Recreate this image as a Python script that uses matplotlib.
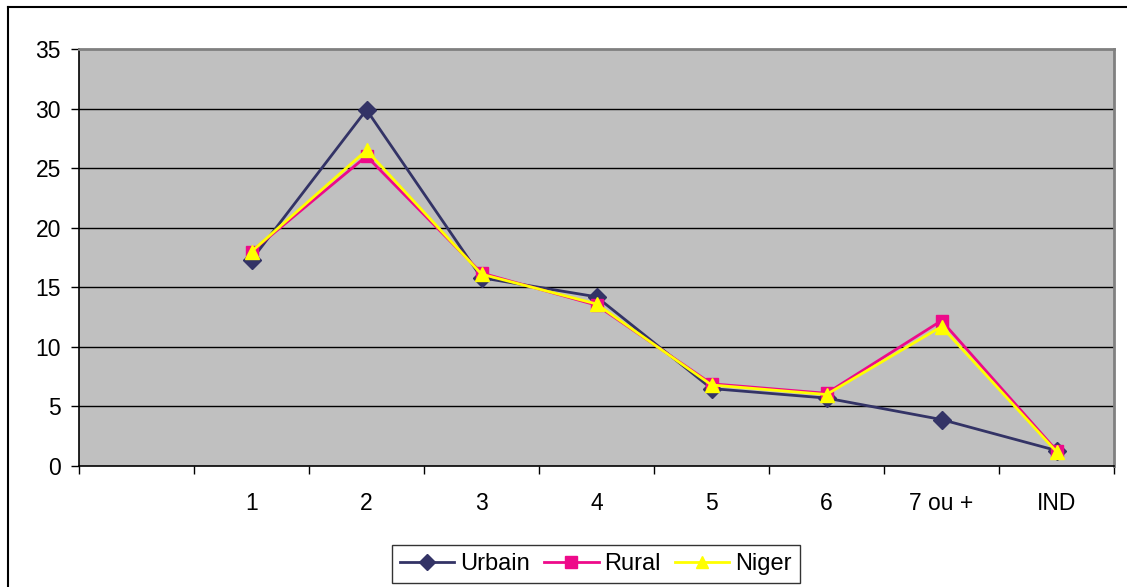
import matplotlib
matplotlib.use("Agg")
import matplotlib.pyplot as plt
from matplotlib.lines import Line2D

categories = ["", "1", "2", "3", "4", "5", "6", "7 ou +", "IND"]
urbain = [17.3, 29.9, 15.8, 14.2, 6.5, 5.7, 3.9, 1.3]
rural = [18.0, 26.0, 16.2, 13.5, 6.9, 6.1, 12.2, 1.3]
niger = [18.0, 26.5, 16.1, 13.6, 6.8, 6.0, 11.7, 1.2]
yticks = [0, 5, 10, 15, 20, 25, 30, 35]

plt.rcParams['font.family'] = ['Liberation Sans', 'DejaVu Sans']

fig = plt.figure(figsize=(11.27, 5.87), dpi=100)
W, H = 1127, 587
ax = fig.add_axes([79 / W, 1 - 466 / H, 1035 / W, 417 / H])
ax.set_facecolor('#C0C0C0')

xs = list(range(1, len(categories)))
ax.plot(xs, urbain, color='#333366', lw=2.0, marker='D', ms=9, label='Urbain', zorder=3)
ax.plot(xs, rural, color='#EE0A8A', lw=2.0, marker='s', ms=9, label='Rural', zorder=4)
ax.plot(xs, niger, color='#FFFF00', lw=2.0, marker='^', ms=10, label='Niger', zorder=5)

ax.set_xlim(-0.5, len(categories) - 0.5)
ax.set_ylim(0, 35)
ax.set_yticks(yticks)
ax.set_yticklabels([str(v) for v in yticks], fontsize=16.5)
for v in yticks[1:-1]:
    ax.axhline(v, color='black', lw=1.0, zorder=1)

ax.set_xticks([i - 0.5 for i in range(len(categories) + 1)])
ax.set_xticklabels([])
ax.set_xticks(list(range(len(categories))), minor=True)
ax.set_xticklabels(categories, minor=True, fontsize=16.5)
ax.tick_params(axis='x', which='major', direction='out', length=6, width=1, color='black')
ax.tick_params(axis='x', which='minor', length=0, pad=18.5)
ax.tick_params(axis='y', direction='out', length=6, width=1, pad=7)

for s in ['left', 'bottom']:
    ax.spines[s].set_color('black')
    ax.spines[s].set_linewidth(1.2)
for s in ['top', 'right']:
    ax.spines[s].set_color('#808080')
    ax.spines[s].set_linewidth(2)

leg = fig.legend(loc='center', bbox_to_anchor=(596 / W, 1 - 564 / H), ncol=3,
                 fontsize=17, frameon=True, fancybox=False, edgecolor='black',
                 handlelength=2.3, handletextpad=0.25, columnspacing=0.6,
                 borderpad=0.35, markerscale=0.9)
leg.get_frame().set_linewidth(1.0)

fig.add_artist(Line2D([8 / W, 8 / W], [0, 1 - 7 / H], color='black', lw=1.5, transform=fig.transFigure))
fig.add_artist(Line2D([8 / W, 1], [1 - 7 / H, 1 - 7 / H], color='black', lw=1.5, transform=fig.transFigure))

fig.savefig('out.png', dpi=100)
